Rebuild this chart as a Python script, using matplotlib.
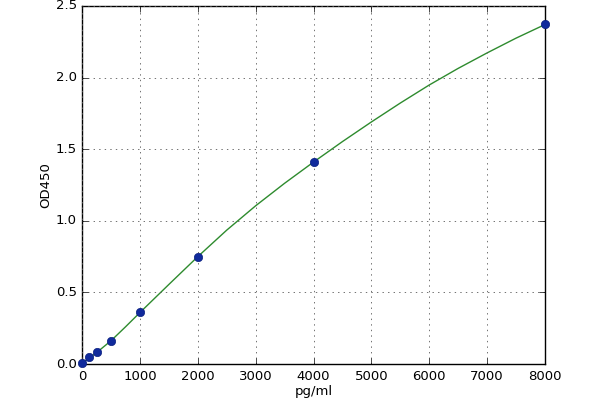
import matplotlib
matplotlib.use("Agg")
import matplotlib.pyplot as plt

# standard points
conc = [0, 125, 250, 500, 1000, 2000, 4000, 8000]
od = [0.007, 0.049, 0.085, 0.16, 0.363, 0.748, 1.41, 2.372]

# fitted curve
curve_x = [0, 250, 500, 750, 1000, 1500, 2000, 2500, 3000, 3500, 4000, 4500, 5000,
           5500, 6000, 6500, 7000, 7500, 8000]
curve_y = [0.005, 0.08, 0.163, 0.26, 0.36, 0.556, 0.75, 0.935, 1.105, 1.262, 1.41,
           1.553, 1.69, 1.822, 1.948, 2.064, 2.172, 2.275, 2.37]

xticks = [0, 1000, 2000, 3000, 4000, 5000, 6000, 7000, 8000]
yticks = [0.0, 0.5, 1.0, 1.5, 2.0, 2.5]

plt.style.use('classic')
fig = plt.figure(figsize=(6, 4), dpi=100, facecolor='white')
ax = fig.add_axes([0.137, 0.09, 0.771, 0.895])
ax.set_facecolor('white')
ax.plot(curve_x, curve_y, color='#2e8b2e', linewidth=1.0, zorder=2)
ax.plot(conc, od, 'o', color='#102a9c', markeredgecolor='#0a1f7f',
        markersize=6, zorder=3, clip_on=False)
ax.set_xlim(0, 8000)
ax.set_ylim(0, 2.5)
ax.set_xticks(xticks)
ax.set_yticks(yticks)
ax.set_yticklabels([f"{v:.1f}" for v in yticks])
ax.tick_params(labelsize=9.5, direction='in')
ax.grid(True, linestyle=':', color='0.35', linewidth=0.6)
ax.set_xlabel('pg/ml', fontsize=9.5, labelpad=2)
ax.set_ylabel('OD450', fontsize=9.5, labelpad=2)
fig.savefig('out.png', dpi=100, facecolor='white')
